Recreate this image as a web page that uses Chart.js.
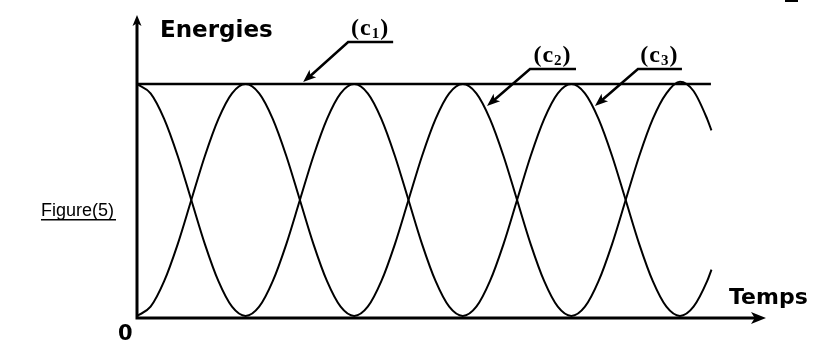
<!DOCTYPE html>
<html>
<head>
<meta charset="utf-8">
<script src="https://cdn.jsdelivr.net/npm/chart.js@4.4.1/dist/chart.umd.min.js"></script>
<style>
    html, body { margin: 0; padding: 0; background: #fff; }
    #wrap { width: 815px; height: 340px; }
</style>
</head>
<body>
<div id="wrap"><canvas id="myChart"></canvas></div>
<script>
// temps en demi-periodes (T/2)
const temps = [0, 0.125, 0.25, 0.375, 0.5, 0.625, 0.75, 0.875,
    1, 1.125, 1.25, 1.375, 1.5, 1.625, 1.75, 1.875,
    2, 2.125, 2.25, 2.375, 2.5, 2.625, 2.75, 2.875,
    3, 3.125, 3.25, 3.375, 3.5, 3.625, 3.75, 3.875,
    4, 4.125, 4.25, 4.375, 4.5, 4.625, 4.75, 4.875,
    5, 5.125, 5.25, 5.29];
// (c2) part de 0
const c2 = [0, 0.04, 0.15, 0.31, 0.5, 0.69, 0.85, 0.96,
    1, 0.96, 0.85, 0.69, 0.5, 0.31, 0.15, 0.04,
    0, 0.04, 0.15, 0.31, 0.5, 0.69, 0.85, 0.96,
    1, 0.96, 0.85, 0.69, 0.5, 0.31, 0.15, 0.04,
    0, 0.04, 0.15, 0.31, 0.5, 0.69, 0.85, 0.96,
    1.01, 0.97, 0.85, 0.8];
// (c3) part du maximum
const c3 = [1, 0.96, 0.85, 0.69, 0.5, 0.31, 0.15, 0.04,
    0, 0.04, 0.15, 0.31, 0.5, 0.69, 0.85, 0.96,
    1, 0.96, 0.85, 0.69, 0.5, 0.31, 0.15, 0.04,
    0, 0.04, 0.15, 0.31, 0.5, 0.69, 0.85, 0.96,
    1, 0.96, 0.85, 0.69, 0.5, 0.31, 0.15, 0.04,
    0, 0.04, 0.15, 0.2];
// (c1) energie totale constante
const c1Temps = [0, 5.285];
const c1 = [1, 1];

// points vises par les fleches des etiquettes
const labels = [
    {txt: 'c', sub: '1', x: 1.53, y: 1.0, dx: 45, dy: -40, len: 45},
    {txt: 'c', sub: '2', x: 3.223, y: 0.897, dx: 43, dy: -37, len: 46},
    {txt: 'c', sub: '3', x: 4.217, y: 0.897, dx: 43, dy: -37, len: 44}
];

function pts(xs, ys) {
    return xs.map(function (t, i) { return {x: t, y: ys[i]}; });
}

function arrowHead(c, x, y, ang, len, half) {
    c.save();
    c.translate(x, y);
    c.rotate(ang);
    c.beginPath();
    c.moveTo(0, 0);
    c.lineTo(-len, -half);
    c.lineTo(-len * 0.75, 0);
    c.lineTo(-len, half);
    c.closePath();
    c.fill();
    c.restore();
}

const decor = {
    id: 'decor',
    afterDraw: function (chart) {
        const c = chart.ctx, xs = chart.scales.x, ys = chart.scales.y;
        const x0 = xs.getPixelForValue(0), yb = ys.bottom;
        c.save();
        c.fillStyle = '#000';
        c.strokeStyle = '#000';
        c.lineCap = 'butt';

        // axes
        c.lineWidth = 3;
        c.beginPath();
        c.moveTo(x0, yb + 1.5);
        c.lineTo(x0, ys.top + 6);
        c.moveTo(x0 - 1.5, yb);
        c.lineTo(xs.right - 6, yb);
        c.stroke();
        arrowHead(c, x0, ys.top - 2, -Math.PI / 2, 11, 4.5);
        arrowHead(c, xs.right + 1, yb, 0, 15, 6);

        // textes
        c.textBaseline = 'alphabetic';
        c.font = 'bold 23px "DejaVu Sans"';
        c.textAlign = 'left';
        c.fillText('Energies', 160, 37);
        c.font = 'bold 22px "DejaVu Sans"';
        c.fillText('Temps', 729, 304);
        c.font = 'bold 21px "DejaVu Sans"';
        c.fillText('0', 118, 340);

        c.font = '18px "Liberation Sans"';
        c.textAlign = 'right';
        c.fillText('Figure(5)', 114, 216);
        const w = c.measureText('Figure(5)').width;
        c.fillRect(114 - w, 219, w + 2, 1.5);

        // petit trait en haut a droite
        c.fillRect(785, 0, 13, 2);

        // etiquettes (c1) (c2) (c3)
        labels.forEach(function (l) {
            const tx = xs.getPixelForValue(l.x), ty = ys.getPixelForValue(l.y) - 2;
            const ax = tx + l.dx, ay = ty + l.dy;
            c.lineWidth = 2.5;
            c.beginPath();
            c.moveTo(ax + l.len, ay);
            c.lineTo(ax, ay);
            c.lineTo(tx + 6, ty - 5);
            c.stroke();
            arrowHead(c, tx, ty, Math.atan2(-l.dy, -l.dx), 13, 5);

            c.textAlign = 'left';
            c.font = 'bold 24px "Liberation Serif"';
            const wp = c.measureText('(').width, wc = c.measureText(l.txt).width;
            c.font = 'bold 15px "Liberation Serif"';
            const ws = c.measureText(l.sub).width;
            const total = wp * 2 + wc + ws + 3;
            let px = ax + l.len / 2 - total / 2 - 1;
            const base = ay - 7;
            c.font = 'bold 24px "Liberation Serif"';
            c.fillText('(', px, base);
            px += wp + 1;
            c.fillText(l.txt, px, base);
            px += wc + 1;
            c.font = 'bold 15px "Liberation Serif"';
            c.fillText(l.sub, px, base + 3);
            px += ws + 1;
            c.font = 'bold 24px "Liberation Serif"';
            c.fillText(')', px, base);
        });
        c.restore();
    }
};

const ctx = document.getElementById('myChart');
const lineStyle = {borderColor: '#000', borderWidth: 2, pointRadius: 0, fill: false, cubicInterpolationMode: 'monotone'};

new Chart(ctx, {
    type: 'line',
    data: {
        datasets: [
            Object.assign({label: '(c1)', data: pts(c1Temps, c1)}, lineStyle, {borderWidth: 2.5}),
            Object.assign({label: '(c2)', data: pts(temps, c2)}, lineStyle),
            Object.assign({label: '(c3)', data: pts(temps, c3)}, lineStyle)
        ]
    },
    options: {
        responsive: true,
        maintainAspectRatio: false,
        animation: false,
        layout: {padding: {left: 137, right: 50, top: 17, bottom: 22}},
        plugins: {legend: {display: false}, tooltip: {enabled: false}},
        scales: {
            x: {type: 'linear', min: 0, max: 5.783, display: false},
            y: {min: -0.0086, max: 1.289, display: false}
        }
    },
    plugins: [decor]
});
</script>
</body>
</html>
